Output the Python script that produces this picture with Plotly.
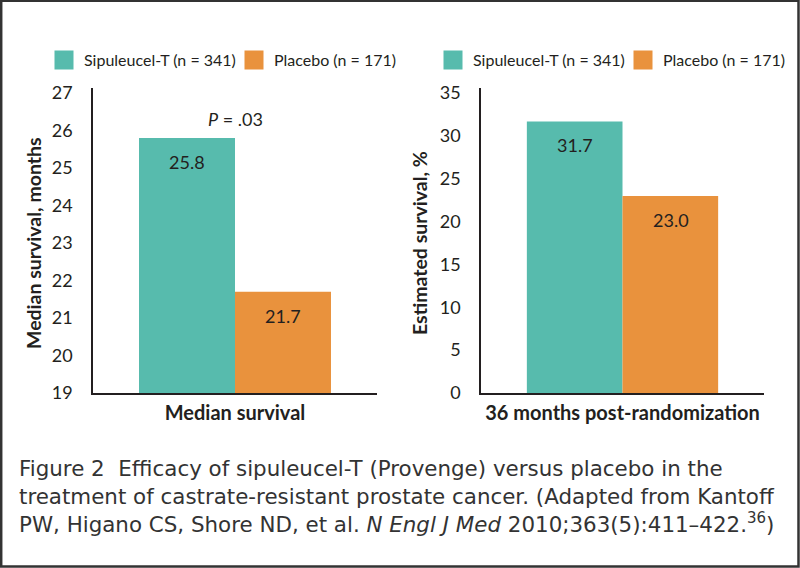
import plotly.graph_objects as go

W, H = 800, 568

# ---- data ----
groups = ["Sipuleucel-T (n = 341)", "Placebo (n = 171)"]
colors = ["#57bbad", "#e9923d"]
left_category = ["Median survival"]
left_values = [25.8, 21.7]
right_category = ["36 months post-randomization"]
right_values = [31.7, 23.0]
left_ticks = [19, 20, 21, 22, 23, 24, 25, 26, 27]
right_ticks = [0, 5, 10, 15, 20, 25, 30, 35]
p_value_text = "<i>P</i> = .03"
left_ytitle = "Median survival, months"
right_ytitle = "Estimated survival, %"
caption_lines = [
    "Figure 2  Efficacy of sipuleucel-T (Provenge) versus placebo in the",
    "treatment of castrate-resistant prostate cancer. (Adapted from Kantoff",
    "PW, Higano CS, Shore ND, et al. <i>N Engl J Med</i> 2010;363(5):411–422.<sup>36</sup>)",
]

FONT = "Lato"
CAP_FONT = "DejaVu Sans"
TXT = "#231f20"

def px_x(p):
    return p / W

def px_y(p):
    return 1 - p / H

fig = go.Figure()

# panel geometry (pixels)
L_x0, L_x1 = 93, 377
R_x0, R_x1 = 481, 764
Y_top, Y_bot = 88, 393

fig.update_layout(
    xaxis=dict(domain=[px_x(L_x0), px_x(L_x1)], anchor="y"),
    yaxis=dict(domain=[px_y(Y_bot), px_y(Y_top)], anchor="x"),
    xaxis2=dict(domain=[px_x(R_x0), px_x(R_x1)], anchor="y2"),
    yaxis2=dict(domain=[px_y(Y_bot), px_y(Y_top)], anchor="x2"),
)

legend_widths = [145, 118]
for i, (g, c) in enumerate(zip(groups, colors)):
    fig.add_trace(go.Bar(x=left_category, y=[left_values[i] - 19], base=19,
                         marker=dict(color=c, line=dict(width=0)),
                         showlegend=False, xaxis="x", yaxis="y",
                         offsetgroup=str(i), hoverinfo="skip"))
    fig.add_trace(go.Bar(x=right_category, y=[right_values[i]],
                         marker=dict(color=c, line=dict(width=0)),
                         showlegend=False, xaxis="x2", yaxis="y2",
                         offsetgroup=str(i), hoverinfo="skip"))
    # legend proxies
    for xa, ya, lg in [("x", "y", "legend"), ("x2", "y2", "legend2")]:
        fig.add_trace(go.Scatter(x=[None], y=[None], mode="markers", name=g,
                                 marker=dict(symbol="square", size=16, color=c,
                                             line=dict(color=c, width=3)),
                                 xaxis=xa, yaxis=ya, legend=lg,
                                 legendwidth=legend_widths[i], hoverinfo="skip"))

axis_line = dict(showline=True, linecolor="#231f20", linewidth=1.5,
                 showgrid=False, zeroline=False, ticks="")

fig.update_layout(
    barmode="group", bargap=0.324, bargroupgap=0,
    width=W, height=H, margin=dict(l=0, r=0, t=0, b=0, autoexpand=False),
    paper_bgcolor="white", plot_bgcolor="white",
    font=dict(family=FONT, color=TXT),
)
fig.update_xaxes(**axis_line, tickfont=dict(family=FONT, size=20, color=TXT, weight="bold"),
                 ticklabelstandoff=1)
fig.update_layout(
    yaxis=dict(**axis_line, range=[19, 27.13], tickvals=left_ticks,
               tickfont=dict(family=FONT, size=18, color=TXT), ticklabelstandoff=15),
    yaxis2=dict(**axis_line, range=[0, 35.6], tickvals=right_ticks,
                tickfont=dict(family=FONT, size=18, color=TXT), ticklabelstandoff=15),
)

legend_common = dict(orientation="h", yanchor="middle", y=px_y(60), xanchor="left",
                     font=dict(family=FONT, size=16, color=TXT),
                     bgcolor="rgba(0,0,0,0)", borderwidth=0,
                     itemclick=False, itemdoubleclick=False)
fig.update_layout(
    legend=dict(**legend_common, x=px_x(44)),
    legend2=dict(**legend_common, x=px_x(433)),
)

ann = []
half_bar = 48
for cat, vals, xr, yr in [(left_category, left_values, "x", "y"),
                          (right_category, right_values, "x2", "y2")]:
    for i, v in enumerate(vals):
        ann.append(dict(x=cat[0], y=v, xref=xr, yref=yr, text=f"{v:.1f}",
                        showarrow=False, xshift=(-half_bar if i == 0 else half_bar),
                        yshift=-24, yanchor="middle",
                        font=dict(family=FONT, size=18, color=TXT)))
ann.append(dict(x=left_category[0], y=left_values[0], xref="x", yref="y",
                text=p_value_text, showarrow=False, yshift=19, yanchor="middle",
                font=dict(family=FONT, size=18, color=TXT)))
ann.append(dict(x=px_x(33), y=px_y(243), xref="paper", yref="paper", text=f"<b>{left_ytitle}</b>",
                textangle=-90, showarrow=False, xanchor="center", yanchor="middle",
                font=dict(family=FONT, size=19.5, color=TXT)))
ann.append(dict(x=px_x(419), y=px_y(243), xref="paper", yref="paper", text=f"<b>{right_ytitle}</b>",
                textangle=-90, showarrow=False, xanchor="center", yanchor="middle",
                font=dict(family=FONT, size=19.5, color=TXT)))
ann.append(dict(x=px_x(17), y=px_y(454), xref="paper", yref="paper",
                text="<br>".join(caption_lines), showarrow=False, xanchor="left",
                yanchor="top", align="left",
                font=dict(family=CAP_FONT, size=21.4, color="#333333")))
fig.update_layout(annotations=ann)

fig.add_shape(type="rect", xref="paper", yref="paper",
              x0=1.2 / W, x1=1 - 1.5 / W, y0=1.5 / H, y1=1 - 0.8 / H,
              line=dict(color="#333333", width=2.5), fillcolor="rgba(0,0,0,0)", layer="above")

fig.write_html("out.html", config={"displayModeBar": False},
               post_script="document.body.style.margin='0';document.body.style.overflow='hidden';")
